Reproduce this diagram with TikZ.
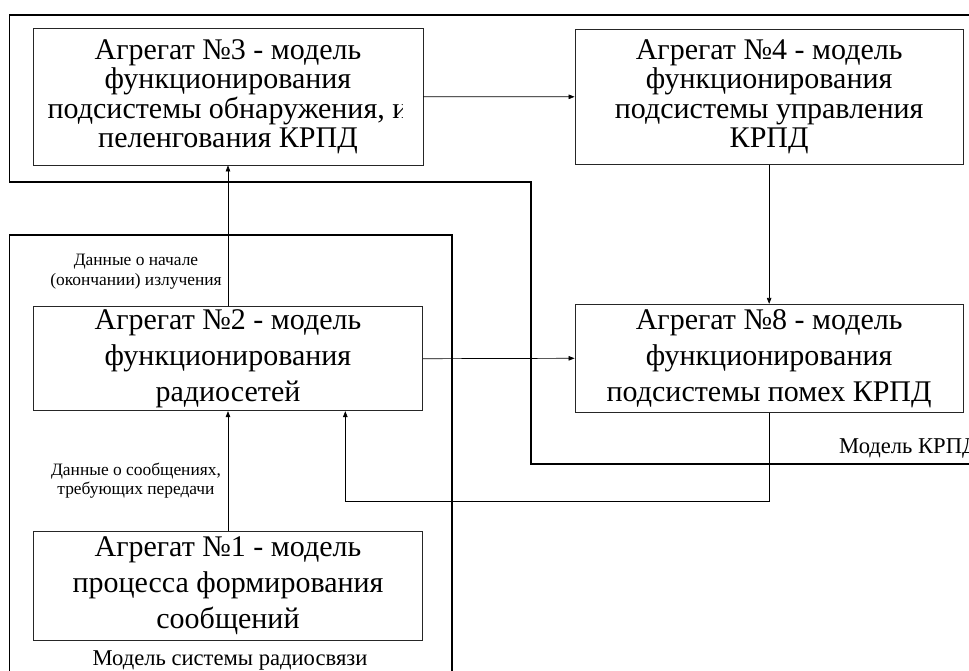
\documentclass[tikz,border=0pt]{standalone}
\usepackage{fontspec}
\setmainfont{Liberation Serif}
\usetikzlibrary{arrows.meta}
\begin{document}
\begin{tikzpicture}[x=1pt,y=-1pt,
  boxline/.style={draw=black!85,line width=0.8pt},
  agg/.style={boxline,inner sep=0pt,minimum width=389.4pt,align=center,
    font=\fontsize{30}{36}\selectfont},
  aggtight/.style={agg,font=\fontsize{30}{29.5}\selectfont},
  frame/.style={draw=black,line width=1.7pt},
  arr/.style={draw=black,line width=0.7pt,-{Triangle[length=6pt,width=4.5pt]}},
  lbl/.style={align=center,inner sep=0pt,font=\fontsize{17.4}{19.5}\selectfont},
  framelabel/.style={inner sep=0pt,font=\fontsize{22.6}{26}\selectfont}]
\useasboundingbox (0,0) rectangle (969,671);
% frames
\draw[frame] (980,14.7) -- (9.5,14.7) -- (9.5,181.7) -- (530.7,181.7) -- (530.7,464) -- (980,464);
\draw[frame] (9.5,690) -- (9.5,235) -- (451.7,235) -- (451.7,690);
% boxes
\begin{scope}
\clip (0,0) rectangle (402,200);
\node[aggtight,draw=none,minimum height=136.3pt] (n3) at (228,96.85)
  {Агрегат №3 - модель\\функционирования\\подсистемы обнаружения, и\\пеленгования КРПД};
\end{scope}
\draw[boxline] (n3.south west) rectangle (n3.north east);
\node[aggtight,minimum width=388.3pt,minimum height=135pt] (n4) at (769.15,96.8)
  {Агрегат №4 - модель\\функционирования\\подсистемы управления\\КРПД};
\node[agg,minimum height=104pt] (n2) at (228,358.7)
  {Агрегат №2 - модель\\функционирования\\радиосетей};
\node[agg,minimum width=388.3pt,minimum height=108pt] (n8) at (769.15,358.3)
  {Агрегат №8 - модель\\функционирования\\подсистемы помех КРПД};
\node[agg,minimum height=109pt] (n1) at (228,585.5)
  {Агрегат №1 - модель\\процесса формирования\\сообщений};
% labels
\node[lbl] (l1) at (136,271.5) {Данные о начале\\(окончании) излучения};
\node[lbl] (l2) at (136,480.5) {Данные о сообщениях,\\требующих передачи};
\node[framelabel,anchor=base] (c1) at (230,665) {Модель системы радиосвязи};
\node[framelabel,anchor=base west] (c2) at (839,453.3) {Модель КРПД};
% connectors
\draw[arr] (n3.east) -- (n4.west);
\draw[arr] (n4.south) -- (n8.north);
\draw[arr] (n2.north) -- (n3.south);
\draw[arr] (n1.north) -- (n2.south);
\draw[arr] (n2.east) -- (n8.west);
\coordinate (fb) at (345.3,501);
\draw[arr] (n8.south) |- (fb) -- (fb |- n2.south);
\end{tikzpicture}
\end{document}
